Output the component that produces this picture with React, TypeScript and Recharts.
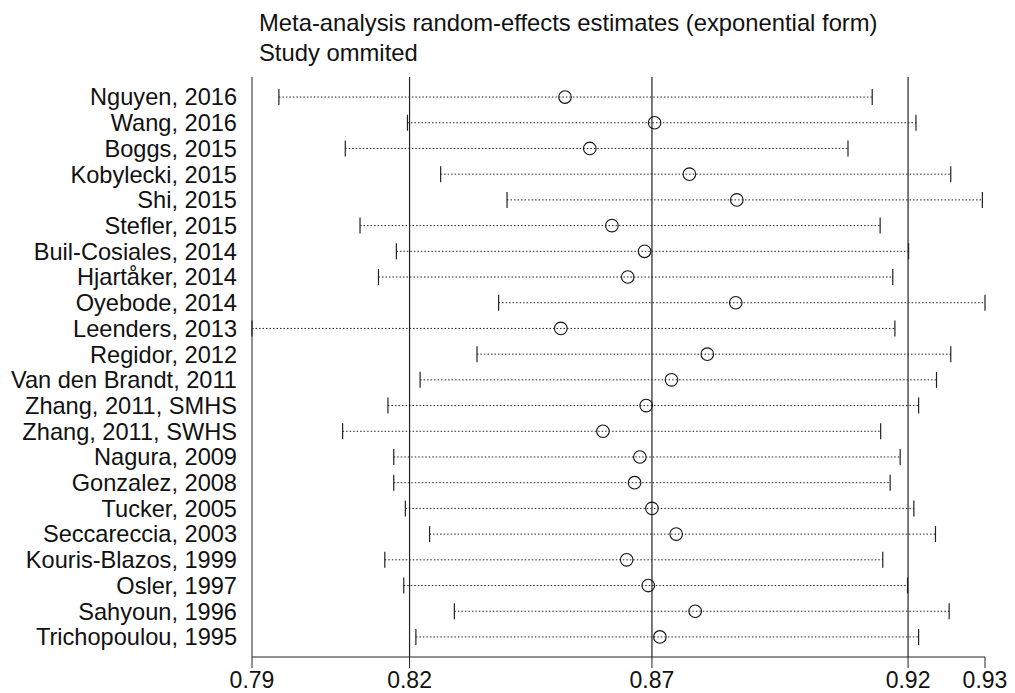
import React from "react";
import {
    ScatterChart,
    Scatter,
    XAxis,
    YAxis,
    ErrorBar,
    ReferenceLine,
} from "recharts";

const STUDIES = [
    "Nguyen, 2016",
    "Wang, 2016",
    "Boggs, 2015",
    "Kobylecki, 2015",
    "Shi, 2015",
    "Stefler, 2015",
    "Buil-Cosiales, 2014",
    "Hjartåker, 2014",
    "Oyebode, 2014",
    "Leenders, 2013",
    "Regidor, 2012",
    "Van den Brandt, 2011",
    "Zhang, 2011, SMHS",
    "Zhang, 2011, SWHS",
    "Nagura, 2009",
    "Gonzalez, 2008",
    "Tucker, 2005",
    "Seccareccia, 2003",
    "Kouris-Blazos, 1999",
    "Osler, 1997",
    "Sahyoun, 1996",
    "Trichopoulou, 1995",
];

const ESTIMATE = [
    0.8515, 0.8685, 0.8562, 0.8751, 0.8841, 0.8604, 0.8666, 0.8634, 0.8839,
    0.8507, 0.8785, 0.8717, 0.8669, 0.8587, 0.8657, 0.8647, 0.868, 0.8726,
    0.8632, 0.8673, 0.8762, 0.8695,
];
const LOWER = [
    0.7972, 0.8216, 0.8098, 0.8279, 0.8405, 0.8126, 0.8195, 0.8161, 0.8389,
    0.7921, 0.8348, 0.824, 0.8179, 0.8093, 0.819, 0.819, 0.8212, 0.8258,
    0.8173, 0.8209, 0.8305, 0.8232,
];
const UPPER = [
    0.9098, 0.9181, 0.9052, 0.9247, 0.9307, 0.9113, 0.9167, 0.9137, 0.9312,
    0.9141, 0.9247, 0.922, 0.9186, 0.9114, 0.9151, 0.9132, 0.9177, 0.9218,
    0.9118, 0.9165, 0.9244, 0.9186,
];

// overall pooled estimate with its CI (vertical lines)
const OVERALL = [0.822, 0.868, 0.9166];
const X_MIN = 0.7921;
const X_MAX = 0.9312;
const X_TICKS = [X_MIN, ...OVERALL, X_MAX];

const ROWS = STUDIES.map((_, i) => i);

const estData = ROWS.map((i) => ({
    x: ESTIMATE[i],
    row: i,
    err: [ESTIMATE[i] - LOWER[i], UPPER[i] - ESTIMATE[i]],
}));
const lowData = ROWS.map((i) => ({ x: LOWER[i], row: i }));
const highData = ROWS.map((i) => ({ x: UPPER[i], row: i }));

const FONT = "'Liberation Sans', Arial, sans-serif";

const Cap = (props: any) => (
    <line
        x1={props.cx}
        x2={props.cx}
        y1={props.cy - 8}
        y2={props.cy + 8}
        stroke="#222"
        strokeWidth={1.2}
    />
);

const Ring = (props: any) => (
    <circle
        cx={props.cx}
        cy={props.cy}
        r={6.3}
        fill="none"
        stroke="#111"
        strokeWidth={1.1}
    />
);

export default function App() {
    return (
        <div
            style={{
                position: "absolute",
                left: 0,
                top: 0,
                width: 1015,
                height: 693,
                background: "#fff",
                fontFamily: FONT,
            }}
        >
            <svg
                width={1015}
                height={70}
                style={{ position: "absolute", left: 0, top: 0 }}
            >
                <text x={259} y={31} fontSize={23.8} fill="#111" fontFamily={FONT}>
                    Meta-analysis random-effects estimates (exponential form)
                </text>
                <text x={259} y={61} fontSize={23.8} fill="#111" fontFamily={FONT}>
                    Study ommited
                </text>
            </svg>
            <ScatterChart
                width={1015}
                height={693}
                margin={{ top: 77, right: 30, bottom: 0, left: 0 }}
            >
                <XAxis
                    type="number"
                    dataKey="x"
                    domain={[X_MIN, X_MAX]}
                    ticks={X_TICKS}
                    interval={0}
                    tickFormatter={(v: number) => v.toFixed(2)}
                    tickSize={11}
                    tickMargin={4}
                    height={36}
                    stroke="#222"
                    tick={{ fill: "#111", fontSize: 23, fontFamily: FONT }}
                />
                <YAxis
                    type="number"
                    dataKey="row"
                    domain={[-0.78, 21.78]}
                    reversed
                    ticks={ROWS}
                    interval={0}
                    tickFormatter={(v: number) => STUDIES[v] ?? ""}
                    tickLine={false}
                    tickSize={0}
                    tickMargin={15}
                    width={252}
                    stroke="#222"
                    tick={{ fill: "#111", fontSize: 23.6, fontFamily: FONT }}
                />
                {OVERALL.map((v) => (
                    <ReferenceLine key={v} x={v} stroke="#222" strokeWidth={1.2} />
                ))}
                <Scatter
                    data={estData}
                    shape={Ring}
                    isAnimationActive={false}
                >
                    <ErrorBar
                        dataKey="err"
                        direction="x"
                        width={0}
                        stroke="#222"
                        strokeWidth={1}
                        strokeDasharray="1.5 2"
                        isAnimationActive={false}
                    />
                </Scatter>
                <Scatter data={lowData} shape={Cap} isAnimationActive={false} />
                <Scatter data={highData} shape={Cap} isAnimationActive={false} />
            </ScatterChart>
        </div>
    );
}
